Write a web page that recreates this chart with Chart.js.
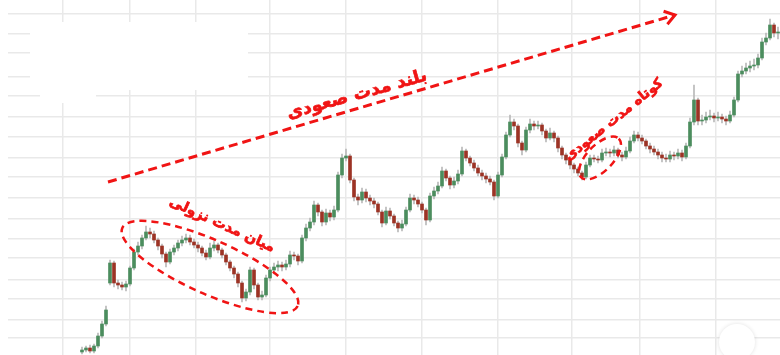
<!DOCTYPE html>
<html>
<head>
<meta charset="utf-8">
<script src="https://cdn.jsdelivr.net/npm/chart.js@4.4.0/dist/chart.umd.min.js"></script>
<style>
html, body { margin: 0; padding: 0; background: #fff; }
#wrap { width: 780px; height: 355px; position: relative; }
</style>
</head>
<body>
<div id="wrap"><canvas id="chart_canvas"></canvas></div>
<script>
// candle data, one entry per trading day
const opens = [3,5,7,4,9,19,31,72,92,72,
    70,68,71,87,103,109,117,123,121,115,
    109,101,93,103,107,112,115,117,113,110,
    107,102,98,107,110,105,100,93,87,81,
    72,57,63,85,70,58,60,77,85,88,
    90,88,91,100,99,94,117,127,133,150,
    143,133,142,138,145,180,197,199,175,158,
    155,163,157,154,151,143,132,144,139,132,
    127,131,145,157,155,151,145,135,159,164,
    169,184,177,170,174,181,204,197,192,187,
    182,179,176,173,159,180,198,220,233,229,
    212,205,225,231,229,230,224,217,222,217,
    207,200,195,190,186,182,178,190,197,196,
    195,202,203,202,205,200,198,204,214,220,
    217,214,209,206,203,200,197,196,200,199,
    202,198,209,233,255,234,235,238,239,237,
    238,236,234,240,255,281,284,287,289,290,
    297,313,317,330,322];
const closes = [5,7,4,9,19,31,45,92,72,70,
    68,71,87,103,109,117,123,121,115,109,
    101,93,103,107,112,115,117,113,110,107,
    102,98,107,110,105,100,93,87,81,72,
    57,63,85,70,58,60,77,85,88,90,
    88,91,100,99,94,117,127,133,150,143,
    133,142,138,145,180,197,199,175,158,155,
    163,157,154,151,143,132,144,139,132,127,
    131,145,157,155,151,145,135,159,164,169,
    184,177,170,174,181,204,197,192,187,182,
    179,176,173,159,180,198,220,233,229,212,
    205,225,231,229,230,224,217,222,217,207,
    200,195,190,186,182,178,190,197,196,195,
    202,203,202,205,200,198,204,214,220,217,
    214,209,206,203,200,197,196,200,199,202,
    198,209,233,255,234,235,238,239,237,238,
    236,234,240,255,281,284,287,289,290,297,
    313,317,330,322,323];
const highs = [8,9,10,11,22,34,49,95,94,75,
    73,74,89,106,113,120,129,127,124,117,
    111,103,106,110,115,119,121,120,116,113,
    109,105,112,114,112,107,102,95,89,83,
    74,66,88,87,72,64,80,88,92,94,
    93,95,104,103,101,120,131,137,154,152,
    145,146,145,149,183,201,206,201,177,161,
    167,166,160,157,153,145,148,147,141,134,
    135,148,161,160,158,153,147,162,168,173,
    188,186,179,178,185,208,206,199,195,190,
    185,182,179,175,183,201,223,240,236,231,
    214,228,236,234,234,232,226,227,224,219,
    209,202,197,192,188,184,193,200,200,199,
    206,207,206,209,207,203,208,218,224,223,
    220,216,212,209,206,203,201,204,203,206,
    205,212,237,270,257,240,243,245,242,243,
    241,239,244,258,284,289,292,294,296,301,
    317,322,336,332,328];
const lows = [1,3,2,2,7,17,29,70,68,66,
    65,64,69,85,100,106,115,117,112,105,
    97,88,91,100,104,109,112,110,107,103,
    99,95,96,104,102,97,90,84,77,68,
    53,54,60,66,55,55,58,74,81,84,
    84,85,88,95,90,92,114,124,130,139,
    129,130,134,135,143,177,194,172,154,150,
    152,153,150,147,140,128,130,136,129,123,
    124,129,143,151,148,142,130,133,156,161,
    167,174,166,167,171,179,194,189,184,179,
    175,172,170,155,157,178,196,218,225,208,
    200,203,222,225,226,220,213,215,213,203,
    196,191,186,182,179,175,176,188,193,192,
    193,199,198,199,197,194,196,202,212,214,
    211,206,202,200,196,193,193,193,195,196,
    194,196,207,230,230,230,232,235,233,234,
    232,230,232,238,253,278,281,283,285,287,
    295,310,315,318,316];

// month gridlines (day index) and price gridlines
const monthLines = [-4.75, 12, 28.5, 47, 66, 85, 104, 122.5, 139.5, 158.5];
const priceLines = [341, 321, 302, 278, 259, 238, 218, 197, 178, 157, 136, 116, 97, 75, 56, 35, 17];

const labelLong = 'بلند مدت صعودی';
const labelMid = 'میان مدت نزولی';
const labelShort = 'کوتاه مدت صعودی';

const RED = '#f01414';
const UP = '#4b8d5e';
const DOWN = '#9c3325';

var bodyData = [], wickData = [], bodyColors = [];
for (var i = 0; i < closes.length; i++) {
    bodyData.push({x: i, y: [opens[i], closes[i]]});
    wickData.push({x: i, y: [lows[i], highs[i]]});
    bodyColors.push(closes[i] >= opens[i] ? UP : DOWN);
}

// notes drawn on top, positioned in day/price units
const notes = {
    id: 'notes',
    beforeDatasetsDraw(chart) {
        // the blank header patch at the top left of the screenshot
        const c = chart.ctx, xs = chart.scales.x, ys = chart.scales.y;
        c.save();
        c.fillStyle = '#fff';
        let x0 = xs.getPixelForValue(-13), x1 = xs.getPixelForValue(41.5);
        c.fillRect(x0, ys.getPixelForValue(333), x1 - x0, ys.getPixelForValue(265) - ys.getPixelForValue(333));
        let x2 = xs.getPixelForValue(3.5);
        c.fillRect(x0 + 10, ys.getPixelForValue(266), x2 - x0 - 10, ys.getPixelForValue(252) - ys.getPixelForValue(266));
        c.restore();
    },
    afterDatasetsDraw(chart) {
        const c = chart.ctx;
        const xs = chart.scales.x, ys = chart.scales.y;
        const pt = (d, p) => [xs.getPixelForValue(d), ys.getPixelForValue(p)];
        c.save();
        c.strokeStyle = RED;
        c.fillStyle = RED;

        // long term arrow
        let a = pt(6.5, 173), b = pt(148.25, 340);
        c.lineWidth = 3;
        c.setLineDash([9, 5]);
        c.beginPath();
        c.moveTo(a[0], a[1]);
        c.lineTo(b[0], b[1]);
        c.stroke();
        c.setLineDash([]);
        let ang = Math.atan2(b[1] - a[1], b[0] - a[0]);
        c.beginPath();
        c.moveTo(b[0] - 12 * Math.cos(ang - 0.6), b[1] - 12 * Math.sin(ang - 0.6));
        c.lineTo(b[0], b[1]);
        c.lineTo(b[0] - 12 * Math.cos(ang + 0.6), b[1] - 12 * Math.sin(ang + 0.6));
        c.stroke();

        // ellipses
        function ell(d, p, rx, ry, rot) {
            let q = pt(d, p);
            c.lineWidth = 2.5;
            c.setLineDash([7, 5]);
            c.beginPath();
            c.ellipse(q[0], q[1], rx, ry, rot * Math.PI / 180, 0, Math.PI * 2);
            c.stroke();
            c.setLineDash([]);
        }
        ell(32, 88, 96, 27, 24);
        ell(129.5, 197, 27, 13, -46);

        // labels
        function txt(s, d, p, size, rot) {
            let q = pt(d, p);
            c.save();
            c.translate(q[0], q[1]);
            c.rotate(rot * Math.PI / 180);
            c.font = 'bold ' + size + 'px "DejaVu Sans"';
            c.textAlign = 'center';
            c.textBaseline = 'middle';
            c.lineWidth = 0.7;
            c.fillText(s, 0, 0);
            c.strokeText(s, 0, 0);
            c.restore();
        }
        txt(labelLong, 68.75, 260, 17.5, -15.5);
        txt(labelMid, 35, 130, 14, 24.5);
        txt(labelShort, 133, 235, 13.5, -39);
        c.restore();
    },
    afterDraw(chart) {
        const c = chart.ctx, ca = chart.chartArea;
        c.save();
        c.shadowColor = 'rgba(0,0,0,0.12)';
        c.shadowBlur = 4;
        c.fillStyle = '#fff';
        c.beginPath();
        c.arc(ca.right - 43, ca.bottom - 13, 18, 0, Math.PI * 2);
        c.fill();
        c.restore();
    }
};

const ctx = document.getElementById('chart_canvas');

var chartDraw = new Chart(ctx, {
    type: 'bar',
    data: {
        datasets: [{
            label: 'body',
            data: bodyData,
            backgroundColor: bodyColors,
            barThickness: 3,
            grouped: false,
            order: 1
        }, {
            label: 'wick',
            data: wickData,
            backgroundColor: '#b9b9b9',
            barThickness: 1,
            grouped: false,
            order: 2
        }]
    },
    options: {
        responsive: true,
        maintainAspectRatio: false,
        animation: false,
        layout: { padding: { left: 8, right: 0, top: 0, bottom: 0 } },
        plugins: { legend: { display: false }, tooltip: { enabled: false } },
        scales: {
            x: {
                type: 'linear',
                offset: false,
                min: -18.5,
                max: 174.5,
                afterBuildTicks: s => { s.ticks = monthLines.map(v => ({value: v})); },
                ticks: { display: false },
                grid: { color: '#e9e9e9', lineWidth: 1.5, drawTicks: false, offset: false },
                border: { display: false }
            },
            y: {
                min: 0,
                max: 355,
                afterBuildTicks: s => { s.ticks = priceLines.map(v => ({value: v})); },
                ticks: { display: false },
                grid: { color: '#e9e9e9', lineWidth: 1.5, drawTicks: false },
                border: { display: false }
            }
        }
    },
    plugins: [notes]
});
</script>
</body>
</html>
